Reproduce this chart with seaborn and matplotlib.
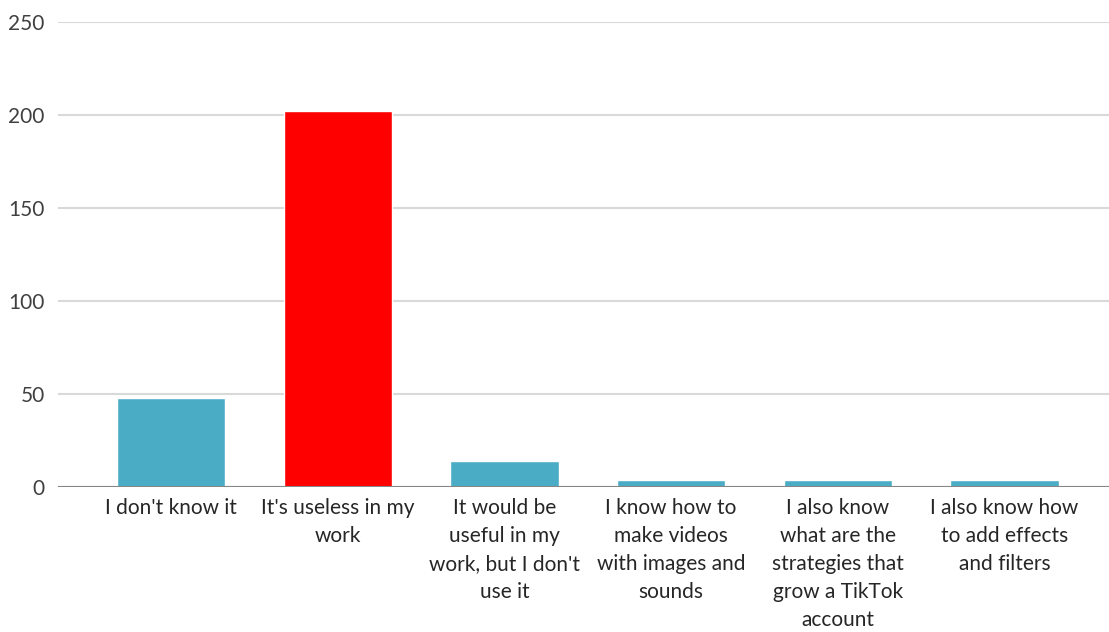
import matplotlib
matplotlib.use("Agg")
import matplotlib.pyplot as plt
import seaborn as sns
import pandas as pd

categories = [
    "I don't know it",
    "It's useless in my\nwork",
    "It would be\nuseful in my\nwork, but I don't\nuse it",
    "I know how to\nmake videos\nwith images and\nsounds",
    "I also know\nwhat are the\nstrategies that\ngrow a TikTok\naccount",
    "I also know how\nto add effects\nand filters",
]
counts = [48, 202, 14, 4, 4, 4]
bar_colors = ["#4BACC6", "#FF0000", "#4BACC6", "#4BACC6", "#4BACC6", "#4BACC6"]
y_ticks = [0, 50, 100, 150, 200, 250]

sns.set_theme(style="white")
plt.rcParams["font.family"] = ["Lato", "DejaVu Sans"]

df = pd.DataFrame({"category": categories, "count": counts})

fig = plt.figure(figsize=(11.09, 6.32), dpi=100)
ax = fig.add_axes([58 / 1109, 1 - 487 / 632, (1109 - 58) / 1109, (487 - 22) / 632])

sns.barplot(data=df, x="category", y="count", hue="category",
            palette=bar_colors, legend=False, width=0.65,
            saturation=1, ax=ax, zorder=3)

ax.set_ylim(0, 250)
ax.set_xlim(-0.678, 5.627)
ax.set_yticks(y_ticks)
ax.yaxis.grid(True, color="#D9D9D9", linewidth=1.5, zorder=0)
ax.axhline(0, color="#868686", linewidth=1.5, zorder=4)
for side in ["top", "right", "left", "bottom"]:
    ax.spines[side].set_visible(False)
ax.set_xlabel("")
ax.set_ylabel("")
ax.tick_params(axis="y", length=0, pad=9.5, labelsize=15, labelcolor="#404040")
ax.tick_params(axis="x", length=0, pad=8, labelsize=15, labelcolor="#262626")
for lbl in ax.get_xticklabels():
    lbl.set_linespacing(1.5)

fig.savefig("out.png", dpi=100, facecolor="white")
